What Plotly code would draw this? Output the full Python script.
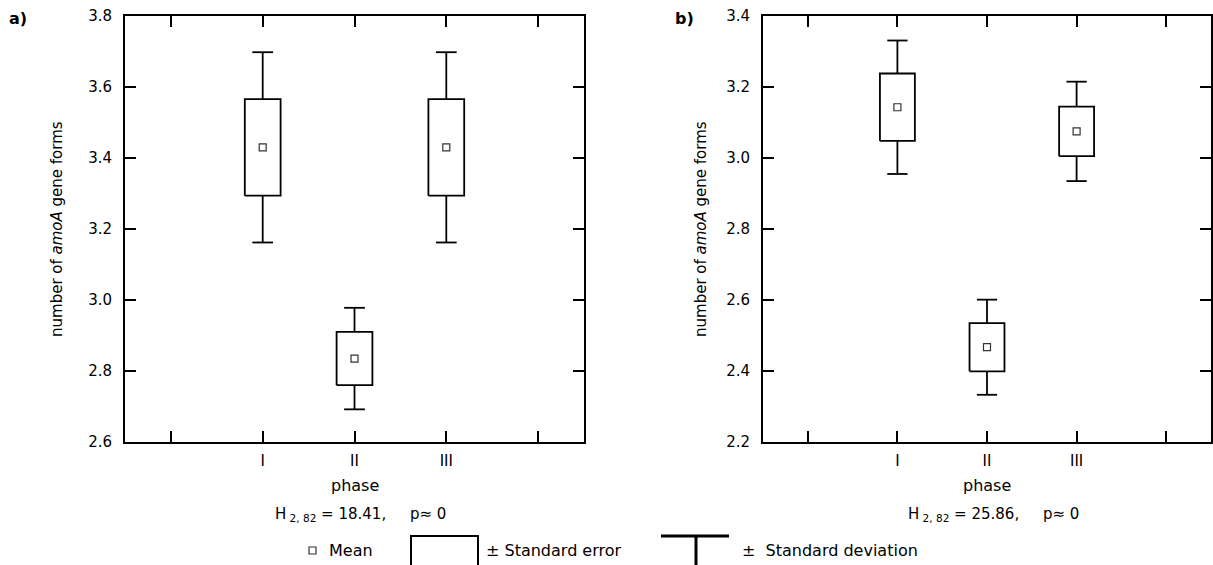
import plotly.graph_objects as go
import numpy as np

# Phases on the x axis
phases = ["I", "II", "III"]
phase_pos = [1, 2, 3]

# Panel a: mean, standard error and standard deviation per phase
a_mean = [3.43, 2.835, 3.43]
a_se = [0.136, 0.075, 0.136]
a_sd = [0.268, 0.143, 0.268]

# Panel b
b_mean = [3.143, 2.467, 3.075]
b_se = [0.095, 0.068, 0.070]
b_sd = [0.188, 0.134, 0.140]

a_yticks = [2.6, 2.8, 3.0, 3.2, 3.4, 3.6, 3.8]
b_yticks = [2.2, 2.4, 2.6, 2.8, 3.0, 3.2, 3.4]

stats_text = ["H<sub> 2, 82</sub> = 18.41,\u00a0\u00a0\u00a0\u00a0 p\u2248 0",
              "H<sub> 2, 82</sub> = 25.86,\u00a0\u00a0\u00a0\u00a0 p\u2248 0"]

FONT = "DejaVu Sans"
W, H = 1213, 565
BOX_HALF = 0.195
CAP_HALF = 0.113


def px(x):
    return x / W


def py(y):
    return 1 - y / H


fig = go.Figure()


def add_panel(mean, se, sd, xa, ya):
    m = np.array(mean)
    s = np.array(se)
    d = np.array(sd)
    bx, by, wx, wy = [], [], [], []
    for p, mi, si, di in zip(phase_pos, m, s, d):
        lo, hi = mi - si, mi + si
        bx += [p - BOX_HALF, p + BOX_HALF, p + BOX_HALF, p - BOX_HALF,
               p - BOX_HALF, None]
        by += [lo, lo, hi, hi, lo, None]
        wx += [p, p, None, p - CAP_HALF, p + CAP_HALF, None,
               p, p, None, p - CAP_HALF, p + CAP_HALF, None]
        wy += [hi, mi + di, None, mi + di, mi + di, None,
               lo, mi - di, None, mi - di, mi - di, None]
    fig.add_trace(go.Scatter(x=wx, y=wy, mode="lines",
                             line=dict(color="black", width=1.8),
                             showlegend=False, hoverinfo="skip",
                             xaxis=xa, yaxis=ya))
    fig.add_trace(go.Scatter(x=bx, y=by, mode="lines",
                             line=dict(color="black", width=1.8),
                             showlegend=False, hoverinfo="skip",
                             xaxis=xa, yaxis=ya))
    fig.add_trace(go.Scatter(
        x=phase_pos, y=m, mode="markers",
        marker=dict(symbol="square-open", size=7, color="#333333",
                    line=dict(width=1.2)),
        showlegend=False, hoverinfo="skip", xaxis=xa, yaxis=ya))


add_panel(a_mean, a_se, a_sd, "x", "y")
add_panel(b_mean, b_se, b_sd, "x2", "y2")

ydom = [py(442), py(16)]
xdom_a = [px(125), px(584)]
xdom_b = [px(763), px(1211)]

common_x = dict(range=[-0.5, 4.5], tickvals=[0, 1, 2, 3, 4],
                ticktext=["\u00a0"] + phases + ["\u00a0"], ticks="inside",
                ticklen=11, tickwidth=2, tickcolor="black", showline=True,
                linewidth=2, linecolor="black", mirror="ticks",
                showgrid=False, zeroline=False, ticklabelstandoff=4,
                automargin=False, ticklabeloverflow="allow",
                tickfont=dict(family=FONT, size=15, color="black"))
common_y = dict(ticks="inside", ticklen=11, tickwidth=2, tickcolor="black",
                showline=True, linewidth=2, linecolor="black",
                mirror="ticks", showgrid=False, zeroline=False,
                tickformat=".1f", ticklabelstandoff=8, automargin=False,
                ticklabeloverflow="allow",
                tickfont=dict(family=FONT, size=15, color="black"))

fig.update_layout(
    width=W, height=H, autosize=False,
    margin=dict(l=0, r=0, t=0, b=0, pad=0, autoexpand=False),
    paper_bgcolor="white", plot_bgcolor="white",
    showlegend=False,
    xaxis=dict(domain=xdom_a, anchor="y", **common_x),
    yaxis=dict(domain=ydom, anchor="x", range=[2.6, 3.8],
               tickvals=a_yticks, **common_y),
    xaxis2=dict(domain=xdom_b, anchor="y2", **common_x),
    yaxis2=dict(domain=ydom, anchor="x2", range=[2.2, 3.4],
                tickvals=b_yticks, **common_y),
)

ytitle = "number of <i>amoA</i> gene forms"
ann = []
for xa, lbl, lx, tx, stat in [("x", "a)", 18, 57, stats_text[0]),
                              ("x2", "b)", 684, 701, stats_text[1])]:
    ann.append(dict(text=f"<b>{lbl}</b>", x=px(lx), y=py(19),
                    xref="paper", yref="paper", showarrow=False,
                    xanchor="center", yanchor="middle",
                    font=dict(family=FONT, size=16, color="black")))
    ann.append(dict(text=ytitle, x=px(tx), y=0.5 * (ydom[0] + ydom[1]),
                    xref="paper", yref="paper", showarrow=False,
                    textangle=-90, xanchor="center", yanchor="middle",
                    font=dict(family=FONT, size=15, color="black")))
    ann.append(dict(text="phase", x=0.5, y=py(485),
                    xref=f"{xa} domain", yref="paper", showarrow=False,
                    xanchor="center", yanchor="middle",
                    font=dict(family=FONT, size=16, color="black")))
    ann.append(dict(text=stat, x=0.5, xshift=6, y=py(514),
                    xref=f"{xa} domain", yref="paper", showarrow=False,
                    xanchor="center", yanchor="middle",
                    font=dict(family=FONT, size=15, color="black")))

# Key for the symbols, along the bottom
legend_items = [("Mean", 327), ("\u00b1 Standard error", 484),
                ("\u00b1\u00a0 Standard deviation", 740)]
for txt, x0 in legend_items:
    ann.append(dict(text=txt, x=px(x0), y=py(550), xref="paper",
                    yref="paper", showarrow=False, xanchor="left",
                    yanchor="middle",
                    font=dict(family=FONT, size=16, color="black")))
fig.update_layout(annotations=ann)

# Open-bottomed box symbol for the standard-error key
se_key = (f"M {px(411):.5f},0 L {px(411):.5f},{py(536):.5f} "
          f"L {px(478):.5f},{py(536):.5f} L {px(478):.5f},0")

shapes = [
    dict(type="rect", xref="paper", yref="paper",
         x0=px(309), x1=px(316), y0=py(554), y1=py(547),
         line=dict(color="#333333", width=1.2), fillcolor="white"),
    dict(type="path", xref="paper", yref="paper", path=se_key,
         line=dict(color="black", width=2), fillcolor="rgba(0,0,0,0)"),
    dict(type="line", xref="paper", yref="paper",
         x0=px(661), x1=px(729), y0=py(536), y1=py(536),
         line=dict(color="black", width=3)),
    dict(type="line", xref="paper", yref="paper",
         x0=px(696), x1=px(696), y0=py(536), y1=0,
         line=dict(color="black", width=3)),
]
fig.update_layout(shapes=shapes)

fig.write_html("out.html")
